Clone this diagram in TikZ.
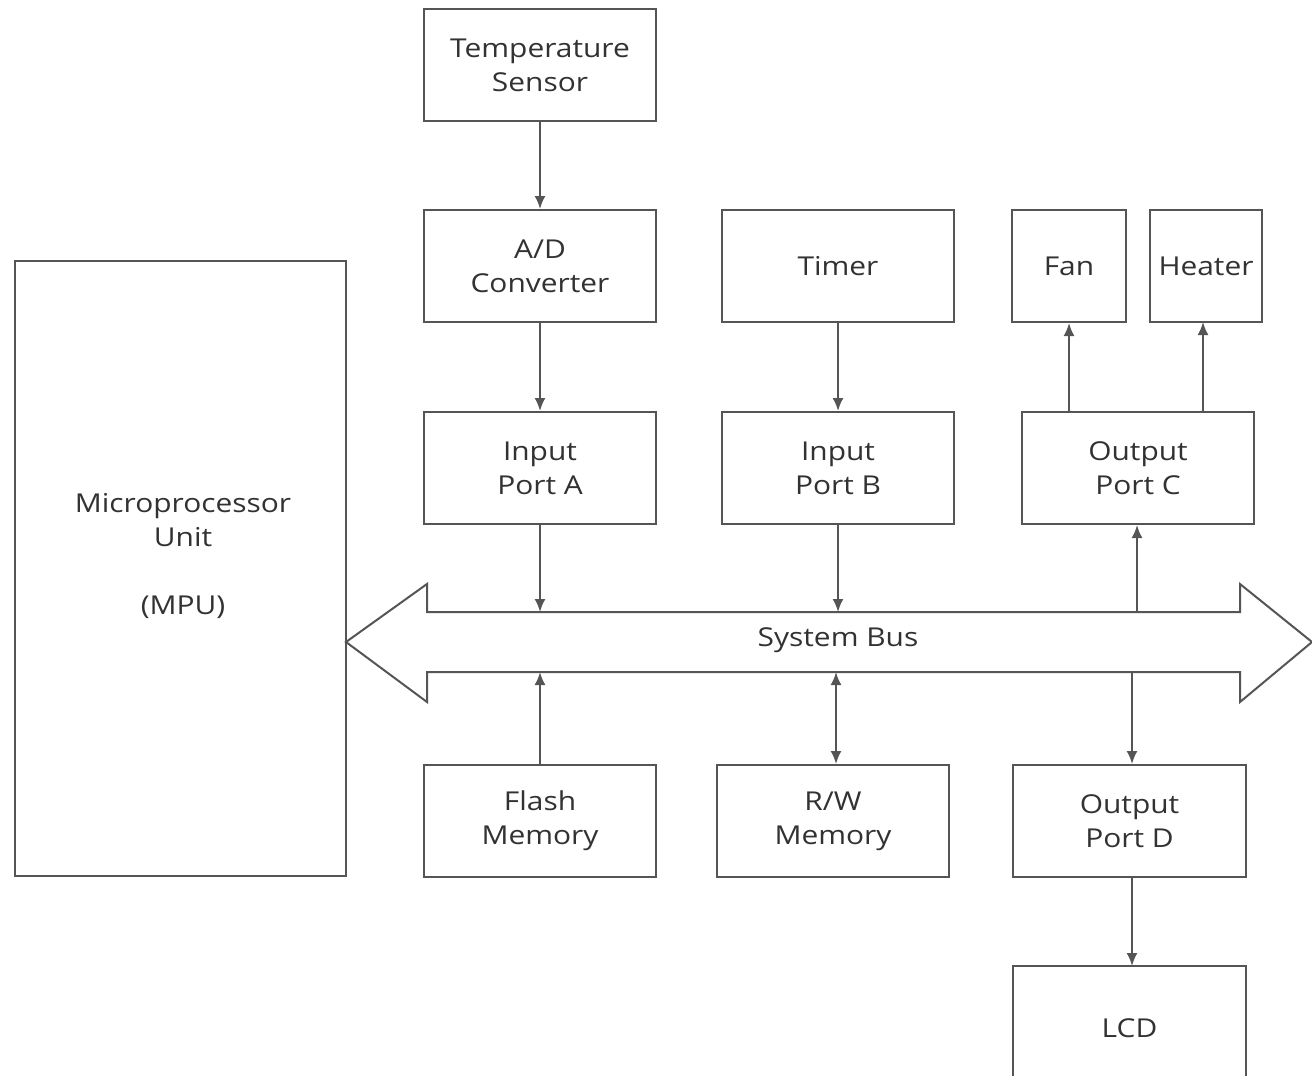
\documentclass[tikz,border=0pt]{standalone}
\usepackage{fontspec}
\setmainfont{Open Sans}[FakeStretch=1.15]
\usetikzlibrary{arrows.meta}
\definecolor{linegray}{RGB}{85,85,85}
\definecolor{txtgray}{RGB}{50,50,50}
\tikzset{
  blk/.style={draw=linegray, line width=2pt, fill=white, minimum width=232pt, minimum height=112pt,
    align=center, inner sep=0pt, font=\fontsize{26}{34}\selectfont, text=txtgray},
  conn/.style={draw=linegray, line width=2pt, -{Latex[length=13pt,width=11pt]}},
  conn2/.style={draw=linegray, line width=2pt, {Latex[length=13pt,width=11pt]}-{Latex[length=13pt,width=11pt]}},
  lbl/.style={align=center, inner sep=0pt, font=\fontsize{26}{34}\selectfont, text=txtgray}
}
\begin{document}
\begin{tikzpicture}[x=1pt,y=-1pt]
\useasboundingbox (0,0) rectangle (1312,1076);
% MPU
\node[blk, minimum width=331pt, minimum height=615pt] (mpu) at (180.5,568.5) {};
\node[lbl] (mputext) at (183,556) {Microprocessor\\Unit\\[34pt](MPU)};
% boxes
\node[blk] (ts) at (540,65) {Temperature\\Sensor};
\node[blk] (ad) at (540,266) {A/D\\Converter};
\node[blk] (timer) at (838,266) {Timer};
\node[blk, minimum width=114pt] (fan) at (1069,266) {Fan};
\node[blk, minimum width=112pt] (heater) at (1206,266) {Heater};
\node[blk] (ina) at (540,468) {Input\\Port A};
\node[blk] (inb) at (838,468) {Input\\Port B};
\node[blk] (outc) at (1138,468) {Output\\Port C};
\node[blk] (flash) at (540,821) {Flash\\Memory};
\node[blk] (rw) at (833,821) {R/W\\Memory};
\node[blk, minimum width=233pt] (outd) at (1129.5,821) {Output\\Port D};
\node[blk, minimum width=233pt, minimum height=140pt] (lcd) at (1129.5,1036) {};
\node[lbl] (lcdtext) at (1129.5,1028) {LCD};
% system bus
\draw[draw=linegray, line width=2pt, fill=white, line join=miter]
  (346,642) -- (427,584) -- (427,612) -- (1240,612) -- (1240,584) -- (1312,642)
  -- (1240,702) -- (1240,672) -- (427,672) -- (427,702) -- cycle;
\node[lbl] (bus) at (838,640) {System Bus};
% bus coordinates
\coordinate (busA) at (540,612);
\coordinate (busB) at (838,612);
\coordinate (busC) at (1137,612);
\coordinate (busF) at (540,672);
\coordinate (busR) at (836,672);
\coordinate (busD) at (1132,672);
% connectors
\draw[conn] (ts.south) -- (ad.north);
\draw[conn] (ad.south) -- (ina.north);
\draw[conn] (ina.south) -- (busA);
\draw[conn] (timer.south) -- (inb.north);
\draw[conn] (inb.south) -- (busB);
\draw[conn] (busC) -- (busC |- outc.south);
\draw[conn] (outc.north -| fan.south) -- (fan.south);
\draw[conn] (outc.north -| 1203,0) -- (1203,322);
\draw[conn] (flash.north) -- (busF);
\draw[conn2] (busR) -- (busR |- rw.north);
\draw[conn] (busD) -- (busD |- outd.north);
\draw[conn] (outd.south -| 1132,0) -- (1132,966);
\end{tikzpicture}
\end{document}
